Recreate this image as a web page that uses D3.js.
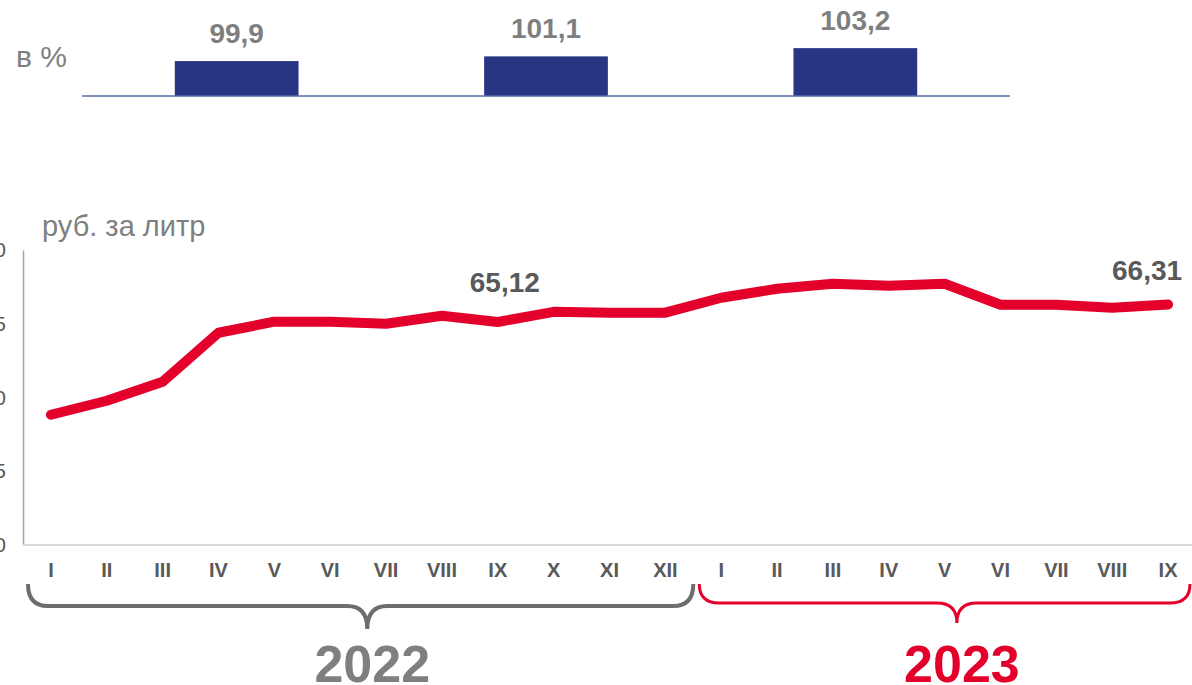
<!DOCTYPE html>
<html>
<head>
<meta charset="utf-8">
<script src="https://cdn.jsdelivr.net/npm/d3@7"></script>
<style>
  body { margin: 0; background: #fff; }
  svg { display: block; font-family: "Liberation Sans", Arial, sans-serif; }
</style>
</head>
<body>
<svg id="chart"></svg>
<script>
// Chart size matches the browser window
const width = 1192;
const height = 685;

// Top bars: index in % for three periods
const barKeys = ["a", "b", "c"];
const barValues = [99.9, 101.1, 103.2];
const barLabels = ["99,9", "101,1", "103,2"];

// Monthly price, rub per litre
const months = ["I", "II", "III", "IV", "V", "VI", "VII", "VIII", "IX", "X", "XI", "XII",
                "I", "II", "III", "IV", "V", "VI", "VII", "VIII", "IX"];
const prices = [58.83, 59.78, 61.07, 64.39, 65.14, 65.14, 65.00, 65.54, 65.12, 65.81, 65.75, 65.75,
                66.76, 67.37, 67.71, 67.58, 67.71, 66.29, 66.29, 66.08, 66.31];
const yTicks = [50, 55, 60, 65, 70];
const labelled = [8, 20]; // points that carry a value label
const pointLabels = ["65,12", "66,31"];
const years = ["2022", "2023"];

const grey = "#7f7f7f";
const dark = "#595959";
const red = "#e3002b";
const navy = "#283583";

const svg = d3.select("#chart")
    .attr("width", width)
    .attr("height", height);

// ---------- top bar strip ----------
const xBar = d3.scaleBand()
    .domain(barKeys)
    .range([82, 1010])
    .paddingInner(0.6)
    .paddingOuter(0.3);

const yBar = d3.scaleLinear()
    .domain([91, 104])
    .range([96, 45]);

svg.append("text")
    .attr("x", 16)
    .attr("y", 67)
    .attr("fill", grey)
    .attr("font-size", 30)
    .text("в %");

svg.selectAll(".bar")
    .data(barValues)
    .enter()
    .append("rect")
    .attr("class", "bar")
    .attr("x", (d, i) => xBar(barKeys[i]))
    .attr("y", d => yBar(d))
    .attr("width", xBar.bandwidth())
    .attr("height", d => yBar(91) - yBar(d))
    .attr("fill", navy);

svg.append("line")
    .attr("x1", 82)
    .attr("x2", 1010)
    .attr("y1", yBar(91))
    .attr("y2", yBar(91))
    .attr("stroke", "#5b6ba6")
    .attr("stroke-width", 1.5);

svg.selectAll(".bar-label")
    .data(barValues)
    .enter()
    .append("text")
    .attr("class", "bar-label")
    .attr("x", (d, i) => xBar(barKeys[i]) + xBar.bandwidth() / 2)
    .attr("y", d => yBar(d) - 18)
    .attr("text-anchor", "middle")
    .attr("fill", grey)
    .attr("font-size", 28)
    .attr("font-weight", "bold")
    .text((d, i) => barLabels[i]);

// ---------- price line ----------
const x = d3.scaleBand()
    .domain(d3.range(months.length))
    .range([23, 1196]);

const y = d3.scaleLinear()
    .domain([50, 70])
    .range([545, 250]);

svg.append("text")
    .attr("x", 42)
    .attr("y", 236)
    .attr("fill", grey)
    .attr("font-size", 29)
    .text("руб. за литр");

// left axis: only the last digits are visible, the rest sits off the page
const yAxis = svg.append("g")
    .attr("transform", "translate(23,0)")
    .call(d3.axisLeft(y).tickValues(yTicks).tickSize(0).tickPadding(17));
yAxis.select(".domain").attr("stroke", "#a6a6a6").attr("stroke-width", 1.5);
yAxis.selectAll("text").attr("fill", dark).attr("font-size", 21).attr("font-family", null);

// bottom axis line
svg.append("line")
    .attr("x1", 23)
    .attr("x2", width)
    .attr("y1", y(50))
    .attr("y2", y(50))
    .attr("stroke", "#d9d9d9")
    .attr("stroke-width", 2);

const xAxis = svg.append("g")
    .attr("transform", `translate(0,${y(50)})`)
    .call(d3.axisBottom(x).tickFormat(i => months[i]).tickSize(0).tickPadding(18));
xAxis.select(".domain").remove();
xAxis.selectAll("text")
    .attr("fill", dark)
    .attr("font-size", 20)
    .attr("font-weight", "bold")
    .attr("font-family", null);

const cx = i => x(i) + x.bandwidth() / 2;

const line = d3.line()
    .x((d, i) => cx(i))
    .y(d => y(d));

svg.append("path")
    .datum(prices)
    .attr("d", line)
    .attr("fill", "none")
    .attr("stroke", red)
    .attr("stroke-width", 10)
    .attr("stroke-linejoin", "round")
    .attr("stroke-linecap", "round");

// value labels (the last one is pulled left to stay on the page)
const labelShift = [7, -21];
svg.selectAll(".pt-label")
    .data(labelled)
    .enter()
    .append("text")
    .attr("class", "pt-label")
    .attr("x", (d, k) => cx(d) + labelShift[k])
    .attr("y", (d, k) => y(prices[d]) - (k === 0 ? 30 : 24))
    .attr("text-anchor", "middle")
    .attr("fill", dark)
    .attr("font-size", 28)
    .attr("font-weight", "bold")
    .text((d, k) => pointLabels[k]);

// ---------- year braces ----------
function brace(x0, x1, tip, yTop, yMid, yTip, r) {
    return `M${x0},${yTop} Q${x0},${yMid} ${x0 + r},${yMid}` +
        ` L${tip - r},${yMid} Q${tip},${yMid} ${tip},${yTip}` +
        ` Q${tip},${yMid} ${tip + r},${yMid}` +
        ` L${x1 - r},${yMid} Q${x1},${yMid} ${x1},${yTop}`;
}

const split = x(12);
const braces = [
    { x0: x(0) + 5, x1: split, f: 0.51, mid: 606, tip: 629, color: "#6d6d6d", w: 4 },
    { x0: split + 6, x1: x(20) + x.bandwidth() - 6, f: 0.525, mid: 603, tip: 623, color: red, w: 3 }
];

svg.selectAll(".brace")
    .data(braces)
    .enter()
    .append("path")
    .attr("class", "brace")
    .attr("d", d => brace(d.x0, d.x1, d.x0 + (d.x1 - d.x0) * d.f, 584, d.mid, d.tip, 20))
    .attr("fill", "none")
    .attr("stroke", d => d.color)
    .attr("stroke-width", d => d.w);

svg.selectAll(".year")
    .data(years)
    .enter()
    .append("text")
    .attr("class", "year")
    .attr("x", (d, i) => braces[i].x0 + (braces[i].x1 - braces[i].x0) * braces[i].f + 5)
    .attr("y", 682)
    .attr("text-anchor", "middle")
    .attr("fill", (d, i) => i === 0 ? grey : red)
    .attr("font-size", 52)
    .attr("font-weight", "bold")
    .text(d => d);
</script>
</body>
</html>
